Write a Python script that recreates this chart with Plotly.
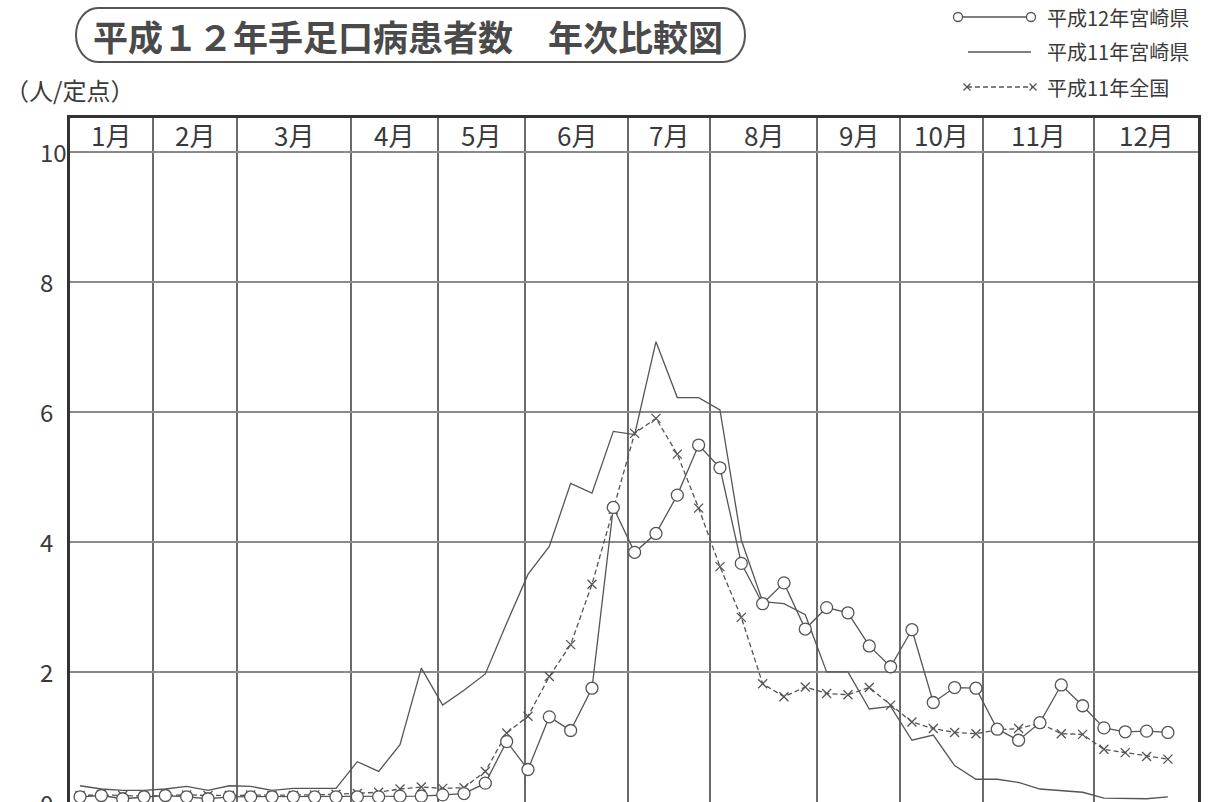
import plotly.graph_objects as go

# ---------------- data ----------------
weeks = list(range(1, 53))

h12_miyazaki = [0.08, 0.10, 0.05, 0.08, 0.10, 0.08, 0.05, 0.08, 0.08, 0.08, 0.08, 0.08, 0.08,
                0.08, 0.08, 0.09, 0.09,
                0.11, 0.13, 0.29, 0.93, 0.50, 1.31, 1.10, 1.75, 4.53, 3.84, 4.13, 4.72, 5.49,
                5.14, 3.67, 3.05, 3.37, 2.66, 2.99, 2.91, 2.40, 2.08, 2.65, 1.53, 1.76, 1.75,
                1.12, 0.95, 1.22, 1.80, 1.48, 1.14, 1.08, 1.09, 1.07]

h11_miyazaki = [0.25, 0.20, 0.18, 0.18, 0.20, 0.24, 0.18, 0.25, 0.24, 0.18, 0.21, 0.21, 0.21,
                0.62, 0.47, 0.88, 2.06, 1.49, 1.72, 1.97, 2.75, 3.50, 3.93, 4.90, 4.75, 5.70,
                5.65, 7.08, 6.22, 6.22, 6.03, 4.03, 3.08, 3.05, 2.88, 2.00, 2.00, 1.43, 1.47,
                0.95, 1.03, 0.56, 0.35, 0.35, 0.30, 0.20, 0.18, 0.15, 0.06, 0.06, 0.05, 0.08]

h11_national = [0.10, 0.11, 0.10, 0.09, 0.10, 0.11, 0.10, 0.10, 0.11, 0.10, 0.10, 0.11, 0.12,
                0.13, 0.15, 0.20, 0.23, 0.21, 0.22, 0.47, 1.06, 1.32, 1.93, 2.42, 3.35, 4.50,
                5.67, 5.90, 5.35, 4.52, 3.62, 2.84, 1.82, 1.62, 1.77, 1.67, 1.65, 1.76, 1.49,
                1.23, 1.13, 1.07, 1.05, 1.11, 1.13, 1.21, 1.05, 1.04, 0.81, 0.76, 0.70, 0.66]

month_labels = ["1月", "2月", "3月", "4月", "5月", "6月", "7月", "8月", "9月", "10月", "11月", "12月"]
month_edges = [0.53, 4.42, 8.36, 13.70, 17.78, 21.86, 26.69, 30.54, 35.55, 39.44, 43.33, 48.54, 53.41]
y_ticks = [0, 2, 4, 6, 8, 10]

series_names = ["平成12年宮崎県", "平成11年宮崎県", "平成11年全国"]
title_text = "平成１２年手足口病患者数　年次比較図"
unit_text = "（人/定点）"

# ---------------- styling / geometry ----------------
W, H = 1220, 802
L, R, T, B = 70, 22, 118, 0
PW, PH = W - L - R, H - T - B
Y_TOP = 10.52
LINE = "#555555"
TXT = "#3a3a3a"
FONT = "Noto Sans CJK JP"


def px(x):
    return (x - L) / PW


def py(y):
    return (H - B - y) / PH


fig = go.Figure()

fig.add_trace(go.Scatter(
    x=weeks, y=h11_miyazaki, mode="lines", name=series_names[1],
    line=dict(color=LINE, width=1.3), showlegend=False))

fig.add_trace(go.Scatter(
    x=weeks, y=h11_national, mode="lines+markers", name=series_names[2],
    line=dict(color=LINE, width=1.3, dash="5px,3px"),
    marker=dict(symbol="x-thin", size=9, line=dict(color=LINE, width=1.3)),
    showlegend=False))

fig.add_trace(go.Scatter(
    x=weeks, y=h12_miyazaki, mode="lines+markers", name=series_names[0],
    line=dict(color=LINE, width=1.3),
    marker=dict(symbol="circle", size=12, color="white", line=dict(color=LINE, width=1.3)),
    showlegend=False))

annotations = []
shapes = []

# month header labels
for i, lab in enumerate(month_labels):
    annotations.append(dict(
        x=(month_edges[i] + month_edges[i + 1]) / 2, y=10.26, xref="x", yref="y",
        text=lab, showarrow=False, font=dict(family=FONT, size=26, color=TXT)))

# y tick labels (left aligned, as in the original)
for v in y_ticks:
    annotations.append(dict(
        x=px(38), y=v, xref="paper", yref="y", xanchor="left", yanchor="middle",
        text=str(v), showarrow=False, font=dict(family=FONT, size=24, color=TXT)))

# unit label
annotations.append(dict(x=px(3), y=py(90), xref="paper", yref="paper", xanchor="left",
                        yanchor="middle", text=unit_text, showarrow=False,
                        font=dict(family=FONT, size=24, color=TXT)))

# title
annotations.append(dict(x=px(408), y=py(35), xref="paper", yref="paper", xanchor="center",
                        yanchor="middle", text=title_text, showarrow=False,
                        font=dict(family=FONT, size=35, color="#4a4a4a", weight="bold")))

# title pill box
x0, x1, y0, y1 = 76, 745, 8, 62
rx, ry = 22, (y1 - y0) / 2
k = 0.5523
ym = (y0 + y1) / 2


def P(x, y):
    return f"{px(x):.5f},{py(y):.5f}"


path = (f"M {P(x0 + rx, y0)} L {P(x1 - rx, y0)} "
        f"C {P(x1 - rx + k * rx, y0)} {P(x1, ym - k * ry)} {P(x1, ym)} "
        f"C {P(x1, ym + k * ry)} {P(x1 - rx + k * rx, y1)} {P(x1 - rx, y1)} "
        f"L {P(x0 + rx, y1)} "
        f"C {P(x0 + rx - k * rx, y1)} {P(x0, ym + k * ry)} {P(x0, ym)} "
        f"C {P(x0, ym - k * ry)} {P(x0 + rx - k * rx, y0)} {P(x0 + rx, y0)} Z")
shapes.append(dict(type="path", path=path, xref="paper", yref="paper",
                   line=dict(color="#555555", width=2)))

# custom legend (top right)
leg_rows = [17, 52, 87]
lx0, lx1, ltext = 958, 1031, 1045
# row 1: circle - line - circle
shapes.append(dict(type="line", xref="paper", yref="paper", x0=px(lx0), x1=px(lx1),
                   y0=py(leg_rows[0]), y1=py(leg_rows[0]), line=dict(color=LINE, width=1.3)))
for cx in (lx0, lx1):
    shapes.append(dict(type="circle", xref="paper", yref="paper",
                       x0=px(cx - 4.5), x1=px(cx + 4.5), y0=py(leg_rows[0] + 4.5),
                       y1=py(leg_rows[0] - 4.5), fillcolor="white",
                       line=dict(color=LINE, width=1.3)))
# row 2: solid line
shapes.append(dict(type="line", xref="paper", yref="paper", x0=px(968), x1=px(lx1),
                   y0=py(leg_rows[1]), y1=py(leg_rows[1]), line=dict(color=LINE, width=1.5)))
# row 3: x - dashed - x
shapes.append(dict(type="line", xref="paper", yref="paper", x0=px(967), x1=px(1033),
                   y0=py(leg_rows[2]), y1=py(leg_rows[2]),
                   line=dict(color=LINE, width=1.3, dash="5px,3px")))
for cx in (967, 1033):
    for d in (1, -1):
        shapes.append(dict(type="line", xref="paper", yref="paper",
                           x0=px(cx - 3.5), x1=px(cx + 3.5),
                           y0=py(leg_rows[2] - 3.5 * d), y1=py(leg_rows[2] + 3.5 * d),
                           line=dict(color=LINE, width=1.2)))
for name, ry_ in zip(series_names, leg_rows):
    annotations.append(dict(x=px(ltext), y=py(ry_), xref="paper", yref="paper",
                            xanchor="left", yanchor="middle", text=name, showarrow=False,
                            font=dict(family=FONT, size=20, color=TXT)))

fig.update_layout(
    width=W, height=H,
    margin=dict(l=L, r=R, t=T, b=B, pad=0),
    paper_bgcolor="white", plot_bgcolor="white",
    font=dict(family=FONT, color=TXT),
    showlegend=False,
    annotations=annotations,
    shapes=shapes,
    xaxis=dict(range=[month_edges[0], month_edges[-1]], tickmode="array",
               tickvals=month_edges, showticklabels=False, ticks="",
               showgrid=True, gridcolor="#6a6a6a", gridwidth=2,
               showline=True, mirror=True, linecolor="#333333", linewidth=3,
               zeroline=False, fixedrange=True),
    yaxis=dict(range=[0, Y_TOP], tickmode="array", tickvals=y_ticks,
               showticklabels=False, ticks="",
               showgrid=True, gridcolor="#8a8a8a", gridwidth=2,
               showline=True, mirror=True, linecolor="#333333", linewidth=3,
               zeroline=False, fixedrange=True),
)

fig.write_html("out.html", config={"displayModeBar": False},
               post_script="document.body.style.margin='0';document.body.style.overflow='hidden';")
